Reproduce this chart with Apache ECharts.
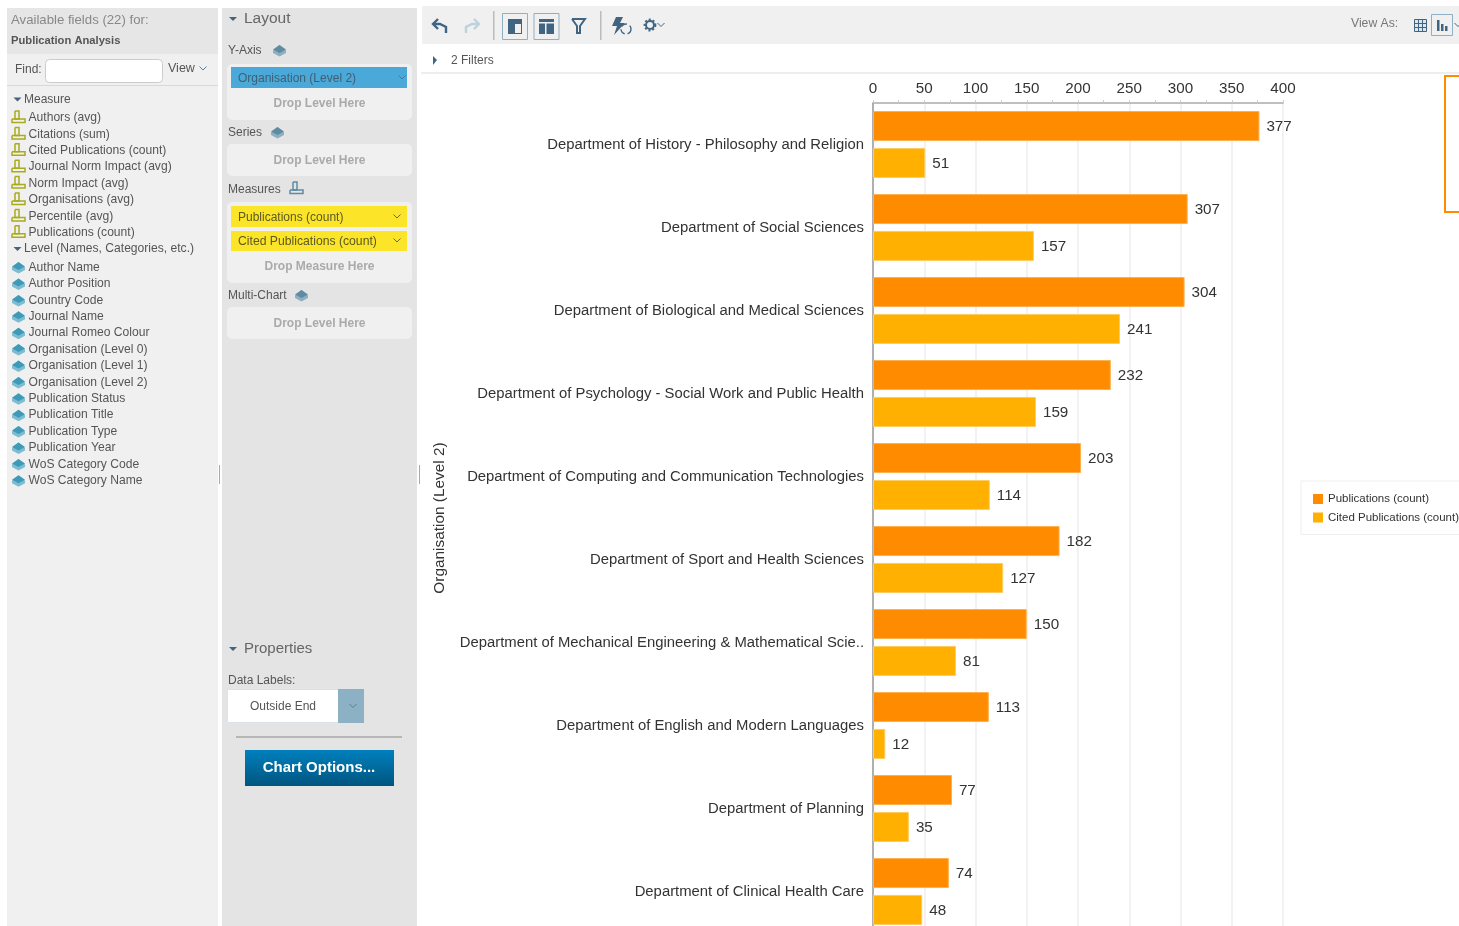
<!DOCTYPE html>
<html><head><meta charset="utf-8"><title>Publication Analysis</title>
<style>html,body{margin:0;padding:0;background:#fff;overflow:hidden;width:1459px;height:926px}#c{position:absolute;left:0;top:0;width:1459px;height:950px}</style>
<script src="https://cdn.jsdelivr.net/npm/echarts@6/dist/echarts.min.js"></script>
</head><body><div id="c"></div>
<script>
const categories = [
 'Department of History - Philosophy and Religion','Department of Social Sciences','Department of Biological and Medical Sciences',
 'Department of Psychology - Social Work and Public Health','Department of Computing and Communication Technologies',
 'Department of Sport and Health Sciences','Department of Mechanical Engineering & Mathematical Scie..',
 'Department of English and Modern Languages','Department of Planning','Department of Clinical Health Care'];
const publications = [377,307,304,232,203,182,150,113,77,74];
const citedPublications = [51,157,241,159,114,127,81,12,35,48];
const measureFields = ['Authors (avg)','Citations (sum)','Cited Publications (count)','Journal Norm Impact (avg)','Norm Impact (avg)','Organisations (avg)','Percentile (avg)','Publications (count)'];
const levelFields = ['Author Name','Author Position','Country Code','Journal Name','Journal Romeo Colour','Organisation (Level 0)','Organisation (Level 1)','Organisation (Level 2)','Publication Status','Publication Title','Publication Type','Publication Year','WoS Category Code','WoS Category Name'];

const FF = '"Liberation Sans", Arial, sans-serif';
const g = [];
const rect = (x,y,w,h,fill,o={}) => g.push({type:'rect',silent:true,shape:{x,y,width:w,height:h,r:o.r||0},style:{fill,stroke:o.stroke||null,lineWidth:o.lw||1}});
const text = (x,y,t,size,fill,o={}) => g.push({type:'text',silent:true,style:{x,y:y+0.8,text:t,fill,font:(o.bold?'bold ':'')+size+'px '+FF,textAlign:o.align||'left',textVerticalAlign:'middle',verticalAlign:'middle'}});
const line = (pts,stroke,lw=1) => g.push({type:'polyline',silent:true,shape:{points:pts},style:{fill:null,stroke,lineWidth:lw}});
const poly = (pts,fill) => g.push({type:'polygon',silent:true,shape:{points:pts},style:{fill}});
const chevron = (x,y,c='#5a7f95') => line([[x-3.5,y-2],[x,y+1.5],[x+3.5,y-2]],c,1);
const caret = (x,y,c='#3f6583') => poly([[x-4,y-2],[x+4,y-2],[x,y+2]],c);
const measureIcon = (x,y,c) => { line([[x+3,y-6],[x+3,y+2],[x+7,y+2],[x+7,y-6],[x+3,y-6]],c,1.5); line([[x,y+2],[x+13,y+2],[x+13,y+5.5],[x,y+5.5],[x,y+2]],c,1.5); };
const levelIcon = (x,y,c1,c2) => { poly([[x,y+0.5],[x+6.5,y-5],[x+13,y+0.5],[x+13,y+3],[x+6.5,y+6.5],[x,y+3]],c2); poly([[x,y-0.5],[x+6.5,y-5],[x+13,y-0.5],[x+6.5,y+3]],c1); };

// left panel
rect(7,8,211,918,'#f0f0f0');
rect(7,8,211,46,'#e6e6e6');
text(11,20,'Available fields (22) for:',13.2,'#888');
text(11,40.5,'Publication Analysis',11.2,'#555',{bold:true});
text(15,68.5,'Find:',12,'#555');
rect(45.5,59.5,117,23,'#fff',{r:4,stroke:'#ccc'});
text(168,67.5,'View',12.5,'#555'); chevron(203,68.5);
line([[7,85.5],[218,85.5]],'#d8d8d8');
caret(17.5,99.5); text(24,98.8,'Measure',12,'#555');
measureFields.forEach((t,i)=>{const y=117+i*16.4; measureIcon(12,y,'#a8ab1c'); text(28.5,y,t,12.1,'#555');});
caret(17.5,249); text(24,248.2,'Level (Names, Categories, etc.)',12.1,'#555');
levelFields.forEach((t,i)=>{const y=266.6+i*16.4; levelIcon(12,y+0.5,'#3d9ab8','#7fbcd0'); text(28.5,y,t,12.1,'#555');});
rect(219,465,1,19,'#aaa');

// middle panel
rect(222,8,195,918,'#e4e4e4');
caret(233,19); text(244,17.5,'Layout',15.5,'#666');
text(228,49.5,'Y-Axis',12,'#555'); levelIcon(273,50,'#5f8ba3','#8eafc1');
rect(227,64,185,56,'#f0f0f0',{r:5});
rect(231,67,176,21,'#4aa9d8');
text(238,78,'Organisation (Level 2)',12,'#3f5f75'); chevron(402,77.5,'#3f7ea6');
text(319.5,103,'Drop Level Here',12,'#aaa',{bold:true,align:'center'});
text(228,131.5,'Series',12,'#555'); levelIcon(271,132,'#5f8ba3','#8eafc1');
rect(227,144,185,32,'#f0f0f0',{r:5});
text(319.5,160,'Drop Level Here',12,'#aaa',{bold:true,align:'center'});
text(228,188.5,'Measures',12,'#555'); measureIcon(290,188,'#5f8ba3');
rect(227,202,185,81,'#f0f0f0',{r:5});
rect(231,206,176,21,'#fce428'); text(238,217,'Publications (count)',12,'#5a5a20'); chevron(397,216.5,'#6d6b20');
rect(231,231,176,20,'#fce428'); text(238,241,'Cited Publications (count)',12.2,'#5a5a20'); chevron(397,240.5,'#6d6b20');
text(319.5,266,'Drop Measure Here',12,'#aaa',{bold:true,align:'center'});
text(228,294.5,'Multi-Chart',12,'#555'); levelIcon(295,295,'#5f8ba3','#8eafc1');
rect(227,307,185,32,'#f0f0f0',{r:5});
text(319.5,323,'Drop Level Here',12,'#aaa',{bold:true,align:'center'});
caret(233,649); text(244,648,'Properties',15,'#666');
text(228,679.5,'Data Labels:',12,'#555');
rect(227.5,689.5,111,33,'#fff',{stroke:'#d8e4ea'});
text(283,705.5,'Outside End',12,'#555',{align:'center'});
rect(338,689,26,34,'#8cb0c4'); chevron(353,706);
line([[236,737],[402,737]],'#888',1);
g.push({type:'rect',silent:true,shape:{x:245,y:750,width:149,height:36},style:{fill:new echarts.graphic.LinearGradient(0,0,0,1,[{offset:0,color:'#0080bd'},{offset:1,color:'#00557f'}])}});
text(319,767,'Chart Options...',15,'#fff',{bold:true,align:'center'});

// toolbar
rect(422,6,1037,38,'#f0f0f0');
line([[446,33],[446,27],[440,24],[434,24]],'#3f6583',2.4); line([[438,19],[433,24],[438,29]],'#3f6583',2.4);
line([[466,33],[466,27],[472,24],[478,24]],'#bcd2de',2.4); line([[474,19],[479,24],[474,29]],'#bcd2de',2.4);
rect(493,11,1.5,29,'#bbb');
rect(502.5,13.5,25,26,'#f0f0f0',{stroke:'#8fb0c2'}); rect(508,19,14,15,'#3f6583'); rect(515,24,6,9,'#f0f0f0');
rect(534,13.5,25,26,'#f0f0f0',{stroke:'#8fb0c2'}); rect(539,19,15,15,'#3f6583'); rect(539,22,15,1.5,'#f0f0f0'); rect(545,23,1.5,11,'#f0f0f0');
line([[572,19],[585,19],[580,26],[580,33],[577,33],[577,26],[572,19]],'#3f6583',2);
rect(600,11,1.5,29,'#bbb');
poly([[616,17],[623,17],[620,23],[625,23],[614,35],[617,26],[612,26]],'#3f6583');
g.push({type:'circle',silent:true,shape:{cx:626,cy:29,r:5},style:{fill:null,stroke:'#3f6583',lineWidth:1.4,lineDash:[6,3]}});
g.push({type:'circle',silent:true,shape:{cx:650,cy:25,r:5.5},style:{fill:null,stroke:'#3f6583',lineWidth:1.8,lineDash:[2,2]}});
g.push({type:'circle',silent:true,shape:{cx:650,cy:25,r:4},style:{fill:null,stroke:'#3f6583',lineWidth:2}});
chevron(661,25,'#3f6583');
text(1351,22.5,'View As:',12.2,'#777');
rect(1414.5,19.5,12,12,'#dfe6ea',{stroke:'#3f6583'}); line([[1418.5,19.5],[1418.5,31.5]],'#3f6583'); line([[1422.5,19.5],[1422.5,31.5]],'#3f6583'); line([[1414.5,23.5],[1426.5,23.5]],'#3f6583'); line([[1414.5,27.5],[1426.5,27.5]],'#3f6583');
rect(1431.5,14.5,21,21,'#f0f0f0',{stroke:'#8fb0c2'}); rect(1437,20,2.5,11,'#3f6583'); rect(1441,24,2.5,7,'#3f6583'); rect(1445,26,2.5,5,'#3f6583');
chevron(1458,25,'#3f6583');
poly([[433,56],[437,60],[433,65]],'#3f6583');
text(451,60,'2 Filters',12,'#555');
line([[421,73],[1459,73]],'#e8e8e8',1.5);
rect(419,465,1,19,'#aaa');
rect(1445,76,20,136,'#fff',{stroke:'#ff8c00',lw:2});

const chart = echarts.init(document.getElementById('c'),null,{renderer:'canvas'});
chart.setOption({
 animation:false, textStyle:{fontFamily:FF},
 legend:{left:1301,top:481,orient:'vertical',padding:[12,12,11,12],itemWidth:10,itemHeight:10,itemGap:6.5,icon:'rect',backgroundColor:'#fff',borderColor:'#eee',borderWidth:1,
   itemStyle:{borderWidth:0},
   textStyle:{fontSize:11.5,color:'#333',fontFamily:FF},data:['Publications (count)','Cited Publications (count)']},
 grid:{left:873,top:103,width:410,height:830,containLabel:false},
 xAxis:{type:'value',position:'top',min:0,max:400,interval:50,
   axisLine:{show:true,lineStyle:{color:'#aaa',width:1.5}},axisTick:{show:true,length:3,lineStyle:{color:'#ccc'}},
   minorTick:{show:true,splitNumber:2,length:3,lineStyle:{color:'#ccc'}},minorSplitLine:{show:false},
   splitLine:{show:true,lineStyle:{color:'#eee',width:1.5}},
   axisLabel:{fontSize:15.2,color:'#333',margin:7,fontFamily:FF}},
 yAxis:{type:'category',inverse:true,data:categories,name:'Organisation (Level 2)',nameLocation:'middle',nameGap:426,nameRotate:90,
   nameTextStyle:{fontSize:15.4,color:'#333',fontFamily:FF},
   axisLine:{show:true,lineStyle:{color:'#999',width:1.5}},axisTick:{show:false},
   axisLabel:{fontSize:14.85,color:'#333',margin:9,fontFamily:FF,width:420,overflow:'none'}},
 series:[
  {name:'Publications (count)',type:'bar',data:publications,barWidth:30,barGap:'23%',itemStyle:{color:'#ff8c00',borderColor:'#ffb04d',borderWidth:1},
   label:{show:true,position:'right',distance:7,offset:[0,1],fontSize:15.2,color:'#333',fontFamily:FF},color:'#ff8c00'},
  {name:'Cited Publications (count)',type:'bar',data:citedPublications,barWidth:30,itemStyle:{color:'#ffb000',borderColor:'#ffcd60',borderWidth:1},
   label:{show:true,position:'right',distance:7,offset:[0,1],fontSize:15.2,color:'#333',fontFamily:FF},color:'#ffb000'}
 ],
 graphic:g
});
</script></body></html>
